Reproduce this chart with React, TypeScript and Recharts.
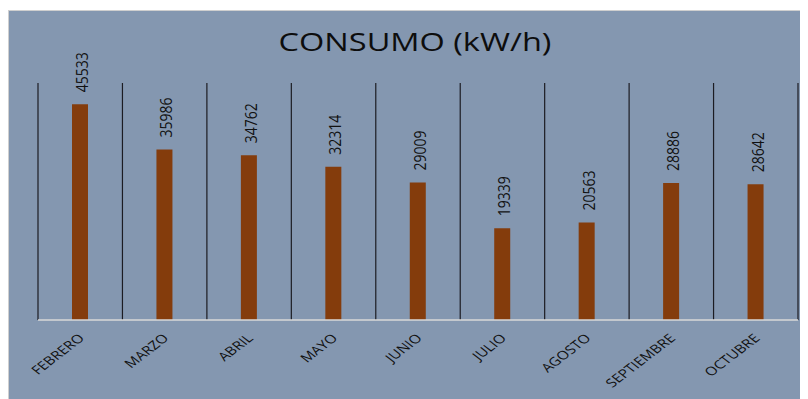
import React from "react";
import { BarChart, Bar, XAxis, YAxis, CartesianGrid, LabelList } from "recharts";

const months = ["FEBRERO", "MARZO", "ABRIL", "MAYO", "JUNIO", "JULIO", "AGOSTO", "SEPTIEMBRE", "OCTUBRE"];
const consumo = [45533, 35986, 34762, 32314, 29009, 19339, 20563, 28886, 28642];
const title = "CONSUMO (kW/h)";

const data = months.map((m, i) => ({ mes: m, valor: consumo[i] }));

const FONT = "'Open Sans', 'DejaVu Sans', sans-serif";

const MonthTick = (props: any) => {
  const { x, y, payload } = props;
  const tx = x + 5;
  const ty = y + 11;
  return (
    <text
      x={0}
      y={0}
      transform={`translate(${tx}, ${ty}) scale(1.3, 1) rotate(-45)`}
      textAnchor="end"
      fontSize={12}
      fontFamily={FONT}
      fill="#111"
    >
      {payload.value}
    </text>
  );
};

const ValueLabel = (props: any) => {
  const { x, y, width, value } = props;
  const cx = x + width / 2 + 1.5;
  const ty = y - 12;
  return (
    <text
      x={0}
      y={0}
      transform={`translate(${cx}, ${ty}) scale(1.2, 1) rotate(-90)`}
      textAnchor="start"
      dominantBaseline="central"
      fontSize={14}
      fontFamily={FONT}
      fill="#111"
    >
      {value}
    </text>
  );
};

export default function App() {
  const n = months.length;
  return (
    <div style={{ marginTop: 2, marginLeft: 0, width: 800, height: 389, borderTop: "1px solid #cfcfcf", borderLeft: "1px solid #cfcfcf", background: "#8497B0", position: "relative" }}>
      <div
        style={{
          position: "absolute",
          left: 0,
          top: 13,
          width: 812,
          textAlign: "center",
          fontFamily: FONT,
          fontSize: 25,
          fontWeight: 500,
          color: "#0d0d0d",
          lineHeight: "normal",
          transform: "scaleX(1.3)",
          transformOrigin: "406px 0",
        }}
      >
        {title}
      </div>
      <BarChart
        width={799}
        height={388}
        data={data}
        margin={{ top: 72, right: 10, bottom: 0, left: 29 }}
        barCategoryGap={0}
      >
        <CartesianGrid
          horizontal={false}
          vertical={true}
          stroke="#1c1c22"
          strokeWidth={1.2}
          verticalCoordinatesGenerator={(p: any) => {
            const off = p.offset;
            const pts: number[] = [];
            for (let i = 0; i <= n; i++) pts.push(off.left + (i * off.width) / n);
            return pts;
          }}
        />
        <XAxis
          dataKey="mes"
          height={79}
          interval={0}
          tickLine={false}
          axisLine={{ stroke: "#D9D9D9", strokeWidth: 1.5 }}
          tick={<MonthTick />}
        />
        <YAxis hide domain={[0, 50000]} />
        <Bar dataKey="valor" fill="#843C0C" barSize={16} isAnimationActive={false}>
          <LabelList dataKey="valor" content={<ValueLabel />} />
        </Bar>
      </BarChart>
    </div>
  );
}
